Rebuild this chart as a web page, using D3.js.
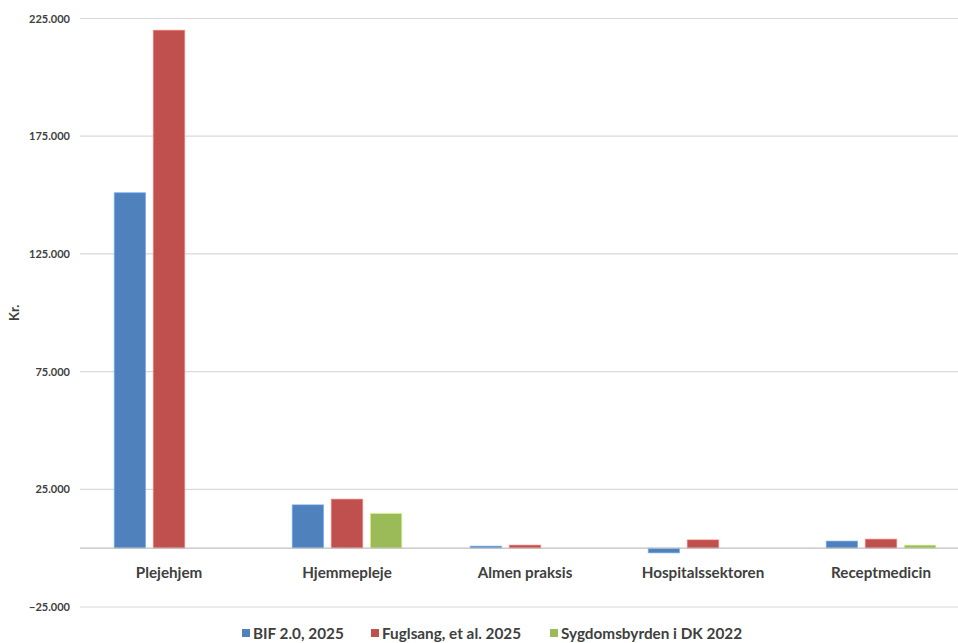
<!DOCTYPE html>
<html>
<head>
<meta charset="utf-8">
<script src="https://cdn.jsdelivr.net/npm/d3@7"></script>
<style>
  html, body { margin: 0; padding: 0; background: #fff; }
  svg { display: block; font-family: Lato, "Open Sans", sans-serif; }
</style>
</head>
<body>
<svg id="chart" width="958" height="643"></svg>
<script>
// Omkostninger pr. sektor (kr.)
const categories = ["Plejehjem", "Hjemmepleje", "Almen praksis", "Hospitalssektoren", "Receptmedicin"];
const seriesNames = ["BIF 2.0, 2025", "Fuglsang, et al. 2025", "Sygdomsbyrden i DK 2022"];
const bif2025 = [151000, 18400, 850, -2000, 3000];
const fuglsang2025 = [220000, 20800, 1270, 3500, 3800];
const sygdomsbyrden2022 = [null, 14700, null, null, 1270];
const yTicks = [-25000, 25000, 75000, 125000, 175000, 225000];
const colors = ["#4F81BD", "#C0504D", "#9BBB59"];

const seriesValues = [bif2025, fuglsang2025, sygdomsbyrden2022];

const svg = d3.select("#chart");
const plot = { left: 80, right: 970, top: 18.5, bottom: 607 };

const y = d3.scaleLinear().domain([-25000, 225000]).range([plot.bottom, plot.top]);
const x = d3.scaleBand().domain(categories).range([plot.left, plot.right]).paddingInner(0).paddingOuter(0);
const groupWidth = x.bandwidth() * 0.615;
const xs = d3.scaleBand().domain(d3.range(seriesNames.length)).range([0, groupWidth]).paddingInner(0.2).paddingOuter(0);

const fmt = v => d3.format(",")(v).replace(/,/g, ".");

// gridlines
svg.append("g")
  .selectAll("line")
  .data(yTicks)
  .join("line")
  .attr("x1", plot.left).attr("x2", plot.right)
  .attr("y1", d => y(d)).attr("y2", d => y(d))
  .attr("stroke", "#d9d9d9").attr("stroke-width", 1.2);

// y axis labels
const yAxis = d3.axisLeft(y).tickValues(yTicks).tickFormat(fmt).tickSize(0).tickPadding(10);
const yg = svg.append("g").attr("transform", `translate(${plot.left},0)`).call(yAxis);
yg.select(".domain").remove();
yg.selectAll("text")
  .attr("font-size", 11).attr("font-weight", "bold").attr("fill", "#404040")
  .attr("font-family", "Lato, 'Open Sans', sans-serif");

// axis title
svg.append("text")
  .attr("transform", `translate(19,${(plot.top + plot.bottom) / 2}) rotate(-90)`)
  .attr("text-anchor", "middle")
  .attr("font-size", 13).attr("font-weight", "bold").attr("fill", "#404040")
  .text("Kr.");

// bars
const bars = [];
seriesValues.forEach((vals, si) => {
  vals.forEach((v, ci) => {
    if (v !== null) bars.push({ si, ci, v });
  });
});
svg.append("g")
  .selectAll("rect")
  .data(bars)
  .join("rect")
  .attr("x", d => x(categories[d.ci]) + (x.bandwidth() - groupWidth) / 2 + xs(d.si))
  .attr("width", xs.bandwidth())
  .attr("y", d => y(Math.max(0, d.v)))
  .attr("height", d => Math.abs(y(d.v) - y(0)))
  .attr("fill", d => colors[d.si])
  .attr("stroke", d => d3.color(colors[d.si]).brighter(0.8))
  .attr("stroke-opacity", 0.6)
  .attr("stroke-width", 1);

// zero axis line
svg.append("line")
  .attr("x1", plot.left).attr("x2", plot.right)
  .attr("y1", y(0)).attr("y2", y(0))
  .attr("stroke", "#bfbfbf").attr("stroke-width", 1.2);

// category labels
const xAxis = d3.axisBottom(x).tickSize(0).tickPadding(0);
const xg = svg.append("g").attr("transform", `translate(0,${y(0) + 19})`).call(xAxis);
xg.select(".domain").remove();
xg.selectAll("text")
  .attr("font-size", 15.2).attr("font-weight", "bold").attr("fill", "#404040")
  .attr("font-family", "Lato, 'Open Sans', sans-serif");

// legend
const legendX = [242, 371, 550];
const lg = svg.append("g").selectAll("g").data(seriesNames).join("g")
  .attr("transform", (d, i) => `translate(${legendX[i]},639)`);
lg.append("rect").attr("x", 0).attr("y", -10).attr("width", 8).attr("height", 8)
  .attr("fill", (d, i) => colors[i]);
lg.append("text").attr("x", 11).attr("y", 0)
  .attr("font-size", 15.3).attr("font-weight", "bold").attr("fill", "#404040")
  .text(d => d);
</script>
</body>
</html>
